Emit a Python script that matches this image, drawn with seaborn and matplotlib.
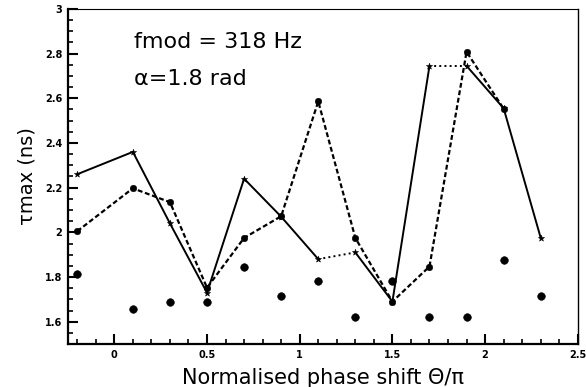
import numpy as np
import pandas as pd
import matplotlib
matplotlib.use("Agg")
import matplotlib.pyplot as plt
import seaborn as sns
from matplotlib.ticker import MultipleLocator

# ---- data ----
phase = [-0.2, 0.1, 0.3, 0.5, 0.7, 0.9, 1.1, 1.3, 1.5, 1.7, 1.9, 2.1, 2.3]
tau_solid = [2.26, 2.36, 2.04, 1.73, 2.24, 2.07, 1.88, 1.91, 1.69, 2.745, 2.745, 2.555, 1.975]
phase_dash = [-0.2, 0.1, 0.3, 0.5, 0.7, 0.9, 1.1, 1.3, 1.5, 1.7, 1.9, 2.1]
tau_dash = [2.005, 2.197, 2.135, 1.752, 1.975, 2.072, 2.586, 1.975, 1.69, 1.847, 2.808, 2.553]
tau_points = [1.815, 1.655, 1.687, 1.687, 1.847, 1.716, 1.782, 1.622, 1.783, 1.622, 1.622, 1.878, 1.716]

x_ticks = [0, 0.5, 1, 1.5, 2, 2.5]
x_ticklabels = ["0", "0.5", "1", "1.5", "2", "2.5"]
y_ticks = [1.6, 1.8, 2.0, 2.2, 2.4, 2.6, 2.8, 3.0]
y_ticklabels = ["1.6", "1.8", "2", "2.2", "2.4", "2.6", "2.8", "3"]

sns.set_theme(style="ticks")
plt.rcParams["font.family"] = ["DejaVu Sans"]
plt.rcParams["text.color"] = "black"
plt.rcParams["axes.labelcolor"] = "black"
plt.rcParams["xtick.color"] = "black"
plt.rcParams["ytick.color"] = "black"

fig = plt.figure(figsize=(5.86, 3.87), dpi=100)
ax = fig.add_axes([0.116, 0.111, 0.870, 0.866])

df_solid = pd.DataFrame({"x": phase, "y": tau_solid})
df_dash = pd.DataFrame({"x": phase_dash, "y": tau_dash})
df_pts = pd.DataFrame({"x": phase, "y": tau_points})

# solid series: draw segments, two of them dotted
dotted_segments = {6, 9}
for i in range(len(df_solid) - 1):
    seg = df_solid.iloc[i:i + 2]
    ls = ":" if i in dotted_segments else "-"
    sns.lineplot(data=seg, x="x", y="y", ax=ax, color="black",
                 linestyle=ls, linewidth=1.4, sort=False, legend=False)
sns.scatterplot(data=df_solid, x="x", y="y", ax=ax, marker="*", s=22,
                color="black", edgecolor="black", legend=False, zorder=3)

# dashed series with circles
sns.lineplot(data=df_dash, x="x", y="y", ax=ax, color="black",
             linewidth=1.6, sort=False, legend=False)
ax.lines[-1].set_linestyle((0, (2.2, 1.2)))
sns.scatterplot(data=df_dash, x="x", y="y", ax=ax, marker="o", s=22,
                color="black", edgecolor="black", legend=False, zorder=3)

# isolated points
sns.scatterplot(data=df_pts, x="x", y="y", ax=ax, marker="o", s=30,
                color="black", edgecolor="black", legend=False, zorder=3)

ax.set_xlim(-0.25, 2.5)
ax.set_ylim(1.5, 3.0)
ax.set_xticks(x_ticks)
ax.set_xticklabels(x_ticklabels, fontsize=7, fontweight="bold")
ax.set_yticks(y_ticks)
ax.set_yticklabels(y_ticklabels, fontsize=7, fontweight="bold")
ax.xaxis.set_minor_locator(MultipleLocator(0.1))
ax.yaxis.set_minor_locator(MultipleLocator(0.05))
ax.tick_params(which="major", direction="in", length=7, width=1.5,
               top=False, right=False, pad=4, colors="black")
ax.tick_params(which="minor", direction="in", length=3.5, width=1.2,
               top=False, right=False, colors="black")
for sp in ax.spines.values():
    sp.set_visible(True)
    sp.set_linewidth(1.6)
    sp.set_color("black")
ax.spines["top"].set_linewidth(0.8)
ax.spines["right"].set_linewidth(1.0)

ax.set_xlabel("Normalised phase shift \u0398/\u03c0", fontsize=15, labelpad=6,
              color="black")
ax.set_ylabel("\u03c4max (ns)", fontsize=14, labelpad=6, color="black")

ax.text(0.13, 0.90, "fmod = 318 Hz", transform=ax.transAxes, fontsize=16,
        va="center", ha="left", color="black")
ax.text(0.13, 0.79, "\u03b1=1.8 rad", transform=ax.transAxes, fontsize=16,
        va="center", ha="left", color="black")

fig.savefig("out.png", dpi=100)
